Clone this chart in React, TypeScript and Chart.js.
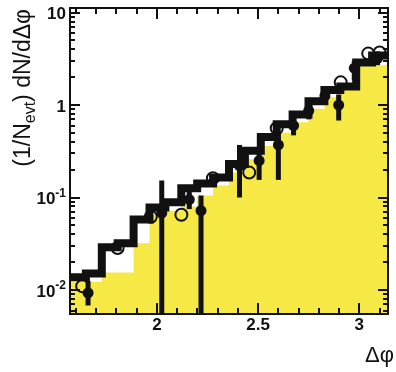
import React, { useEffect, useRef } from "react";
import { Chart, registerables } from "chart.js";

Chart.register(...registerables);

// Bin edges of the histograms (pi/2 .. pi, 20 bins)
const binEdges = [
  1.5708, 1.6493, 1.7279, 1.8064, 1.885, 1.9635, 2.042, 2.1206, 2.1991, 2.2777,
  2.3562, 2.4347, 2.5133, 2.5918, 2.6704, 2.7489, 2.8274, 2.906, 2.9845, 3.0631,
  3.1416,
];
// Shaded (yellow) histogram
const shadedValues = [
  0.0123, 0.0123, 0.0155, 0.0155, 0.032, 0.065, 0.072, 0.08, 0.105, 0.135,
  0.186, 0.26, 0.36, 0.5, 0.65, 0.91, 1.21, 1.45, 2.62, 2.7,
];
// Thick black line histogram
const lineValues = [
  0.0137, 0.0151, 0.029, 0.032, 0.058, 0.078, 0.089, 0.126, 0.142, 0.165,
  0.23, 0.32, 0.45, 0.62, 0.79, 1.1, 1.45, 1.59, 2.88, 3.43,
];
// Open circles
const openX = [1.631, 1.806, 1.97, 2.121, 2.277, 2.456, 2.592, 2.908, 3.044, 3.1];
const openY = [0.011, 0.0284, 0.062, 0.065, 0.162, 0.186, 0.56, 1.76, 3.6, 3.7];
// Filled points with vertical errors
const filledX = [1.66, 2.024, 2.16, 2.218, 2.408, 2.505, 2.6, 2.675, 2.75, 2.83, 2.898, 2.975, 3.09];
const filledY = [0.0093, 0.068, 0.095, 0.072, 0.22, 0.25, 0.37, 0.6, 0.87, 1.26, 1.0, 2.5, 3.2];
const filledLow = [0.0068, 0.001, 0.075, 0.001, 0.1, 0.155, 0.155, 0.47, 0.7, 1.02, 0.68, 1.85, 2.7];
const filledHigh = [0.0125, 0.153, 0.12, 0.105, 0.37, 0.32, 0.5, 0.75, 1.05, 1.5, 1.3, 3.0, 3.8];

// Axis ticks
const xMajorTicks = [2, 2.5, 3];
const xMajorLabels = ["2", "2.5", "3"];
const xMinorTicks = [1.6, 1.7, 1.8, 1.9, 2.1, 2.2, 2.3, 2.4, 2.6, 2.7, 2.8, 2.9, 3.0, 3.1];
const yMajorTicks = [0.01, 0.1, 1, 10];
const yMajorLabels = ["10", "10", "1", "10"];
const yMajorExponents = ["-2", "-1", "", ""];
const yMinorTicks = [
  0.006, 0.007, 0.008, 0.009, 0.02, 0.03, 0.04, 0.05, 0.06, 0.07, 0.08, 0.09,
  0.2, 0.3, 0.4, 0.5, 0.6, 0.7, 0.8, 0.9, 2, 3, 4, 5, 6, 7, 8, 9,
];

const X_MIN = 1.5708;
const X_MAX = 3.1416;
const Y_MIN = 0.0055;
const Y_MAX = 11.2;

const FONT = '"Liberation Sans", Arial, sans-serif';
const INK = "#111111";
const YELLOW = "#f6e845";

function stepPoints(values: number[]) {
  return binEdges.map((e, i) => ({ x: e, y: values[Math.min(i, values.length - 1)] }));
}

const rootStyle = {
  id: "rootStyle",
  afterDatasetDraw(chart: any, args: any) {
    if (args.index !== 2) return;
    const { ctx, chartArea } = chart;
    const xs = chart.scales.x;
    const ys = chart.scales.y;
    ctx.save();
    ctx.beginPath();
    ctx.rect(chartArea.left, chartArea.top, chartArea.right - chartArea.left, chartArea.bottom - chartArea.top);
    ctx.clip();
    ctx.strokeStyle = INK;
    ctx.lineWidth = 5;
    ctx.lineCap = "butt";
    for (let i = 0; i < filledX.length; i++) {
      const px = xs.getPixelForValue(filledX[i]);
      const lo = ys.getPixelForValue(filledLow[i]);
      const hi = ys.getPixelForValue(filledHigh[i]);
      ctx.beginPath();
      ctx.moveTo(px, lo);
      ctx.lineTo(px, hi);
      ctx.stroke();
    }
    ctx.restore();
  },
  afterDraw(chart: any) {
    const { ctx, chartArea } = chart;
    const { left, right, top, bottom } = chartArea;
    const xs = chart.scales.x;
    const ys = chart.scales.y;
    ctx.save();
    ctx.strokeStyle = INK;
    ctx.lineWidth = 2;
    const xTick = (v: number, len: number) => {
      const px = Math.round(xs.getPixelForValue(v));
      ctx.beginPath();
      ctx.moveTo(px, bottom);
      ctx.lineTo(px, bottom - len);
      ctx.moveTo(px, top);
      ctx.lineTo(px, top + len);
      ctx.stroke();
    };
    const yTick = (v: number, len: number) => {
      const py = Math.round(ys.getPixelForValue(v));
      ctx.beginPath();
      ctx.moveTo(left, py);
      ctx.lineTo(left + len, py);
      ctx.moveTo(right, py);
      ctx.lineTo(right - len, py);
      ctx.stroke();
    };
    xMinorTicks.forEach((v) => xTick(v, 6));
    xMajorTicks.forEach((v) => xTick(v, 11));
    yMinorTicks.forEach((v) => yTick(v, 5));
    yMajorTicks.forEach((v) => yTick(v, 10));
    ctx.strokeRect(left, top, right - left, bottom - top);

    ctx.fillStyle = INK;
    ctx.font = `bold 17px ${FONT}`;
    ctx.textAlign = "center";
    ctx.textBaseline = "alphabetic";
    xMajorTicks.forEach((v, i) => {
      ctx.fillText(xMajorLabels[i], xs.getPixelForValue(v), 330);
    });
    yMajorTicks.forEach((v, i) => {
      const py = ys.getPixelForValue(v);
      const base = yMajorLabels[i];
      const exp = yMajorExponents[i];
      ctx.font = `bold 12px ${FONT}`;
      const ew = exp ? ctx.measureText(exp).width : 0;
      const xr = 66;
      ctx.textAlign = "right";
      ctx.textBaseline = "middle";
      if (exp) ctx.fillText(exp, xr, py - 4);
      ctx.font = `bold 17px ${FONT}`;
      ctx.fillText(base, xr - ew, py + 2);
    });
    ctx.font = `22px ${FONT}`;
    ctx.textAlign = "right";
    ctx.textBaseline = "alphabetic";
    ctx.fillText("\u0394\u03c6", 394, 362);
    ctx.save();
    ctx.translate(30, 9);
    ctx.rotate(-Math.PI / 2);
    const parts = [
      { t: "(1/N", f: `23px ${FONT}`, dy: 0 },
      { t: "evt", f: `16px ${FONT}`, dy: 5 },
      { t: ") dN/d\u0394\u03c6", f: `23px ${FONT}`, dy: 0 },
    ];
    let total = 0;
    parts.forEach((p) => {
      ctx.font = p.f;
      total += ctx.measureText(p.t).width;
    });
    let cx = -total;
    ctx.textAlign = "left";
    parts.forEach((p) => {
      ctx.font = p.f;
      ctx.fillText(p.t, cx, p.dy);
      cx += ctx.measureText(p.t).width;
    });
    ctx.restore();
    ctx.restore();
  },
};

export default function App() {
  const ref = useRef<HTMLCanvasElement | null>(null);
  useEffect(() => {
    if (!ref.current) return;
    const chart = new Chart(ref.current, {
      type: "line",
      data: {
        datasets: [
          {
            label: "shaded",
            data: stepPoints(shadedValues),
            stepped: "before",
            borderWidth: 0,
            borderColor: YELLOW,
            backgroundColor: YELLOW,
            fill: "start",
            pointRadius: 0,
            order: 4,
            clip: 0,
          } as any,
          {
            label: "line",
            data: stepPoints(lineValues),
            stepped: "before",
            borderWidth: 8,
            borderColor: INK,
            fill: false,
            pointRadius: 0,
            order: 3,
            clip: 0,
          } as any,
          {
            label: "filled",
            data: filledX.map((x, i) => ({ x, y: filledY[i] })),
            showLine: false,
            pointRadius: 5.5,
            pointBackgroundColor: INK,
            pointBorderWidth: 0,
            order: 2,
            clip: 0,
          } as any,
          {
            label: "open",
            data: openX.map((x, i) => ({ x, y: openY[i] })),
            showLine: false,
            pointRadius: 6,
            pointBorderWidth: 2,
            pointBorderColor: INK,
            pointBackgroundColor: "rgba(0,0,0,0)",
            order: 1,
            clip: 0,
          } as any,
        ],
      },
      options: {
        animation: false,
        responsive: false,
        devicePixelRatio: 1,
        events: [],
        layout: { padding: { top: 8, right: 2, left: 0, bottom: 0 } },
        plugins: { legend: { display: false }, tooltip: { enabled: false } },
        scales: {
          x: {
            type: "linear",
            min: X_MIN,
            max: X_MAX,
            grid: { display: false, drawTicks: false },
            border: { display: false },
            ticks: { display: false },
            afterFit: (s: any) => {
              s.height = 58;
            },
          },
          y: {
            type: "logarithmic",
            min: Y_MIN,
            max: Y_MAX,
            grid: { display: false, drawTicks: false },
            border: { display: false },
            ticks: { display: false },
            afterFit: (s: any) => {
              s.width = 70;
            },
          },
        },
      },
      plugins: [rootStyle],
    });
    return () => chart.destroy();
  }, []);
  return (
    <div style={{ position: "absolute", left: 0, top: 0, width: 396, height: 372, background: "#fff" }}>
      <canvas ref={ref} width={396} height={372} style={{ display: "block" }} />
    </div>
  );
}
